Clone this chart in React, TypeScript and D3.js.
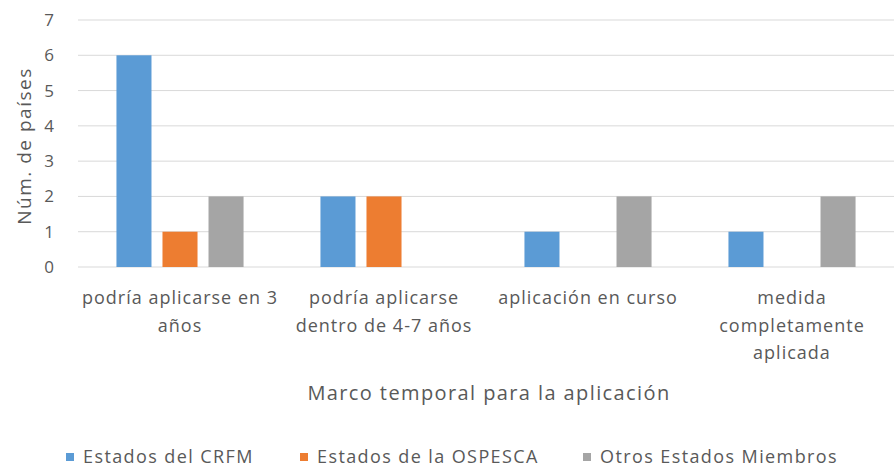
import React from "react";
import * as d3 from "d3";

const categories = [
  "podría aplicarse en 3 años",
  "podría aplicarse dentro de 4-7 años",
  "aplicación en curso",
  "medida completamente aplicada",
];
const categoryLines = [
  ["podría aplicarse en 3", "años"],
  ["podría aplicarse", "dentro de 4-7 años"],
  ["aplicación en curso"],
  ["medida", "completamente", "aplicada"],
];
const seriesNames = ["Estados del CRFM", "Estados de la OSPESCA", "Otros Estados Miembros"];
const crfm = [6, 2, 1, 1];
const ospesca = [1, 2, 0, 0];
const otros = [2, 0, 2, 2];
const seriesValues = [crfm, ospesca, otros];
const colors = ["#5b9bd5", "#ed7d31", "#a5a5a5"];
const yTicks = [0, 1, 2, 3, 4, 5, 6, 7];

const W = 895;
const H = 473;
const FONT = "'Open Sans', sans-serif";
const TXT = "#595959";

export default function App() {
  const x0 = d3.scaleBand<string>().domain(categories).range([78, 894]).paddingInner(0.377).paddingOuter(0.1885);
  const x1 = d3.scaleBand<string>().domain(seriesNames).range([0, x0.bandwidth()]).paddingInner(0.239);
  const y = d3.scaleLinear().domain([0, 7]).range([267, 20]);

  const legendX = [66, 300, 583];

  return (
    <svg width={W} height={H} style={{ position: "absolute", left: 0, top: 0, background: "#fff" }} fontFamily={FONT}>
      <rect x={0} y={0} width={W} height={H} fill="#fff" />
      {yTicks.map((t) => (
        <g key={t}>
          <line x1={78} x2={894} y1={y(t)} y2={y(t)} stroke="#d9d9d9" strokeWidth={1} />
          <text x={54} y={y(t)} dy="0.35em" textAnchor="end" fontSize={17} fill={TXT}>
            {t}
          </text>
        </g>
      ))}
      {categories.map((c, i) => (
        <g key={c} transform={`translate(${x0(c)},0)`}>
          {seriesNames.map((s, j) => {
            const v = seriesValues[j][i];
            if (!v) return null;
            return (
              <rect key={s} x={x1(s)} y={y(v)} width={x1.bandwidth()} height={y(0) - y(v)} fill={colors[j]} />
            );
          })}
          {categoryLines[i].map((ln, k) => (
            <text
              key={k}
              x={x0.bandwidth() / 2}
              y={298 + k * 27.5}
              dy="0.35em"
              textAnchor="middle"
              fontSize={18}
              letterSpacing={1}
              fill={TXT}
            >
              {ln}
            </text>
          ))}
        </g>
      ))}
      <text
        transform={`translate(24,146) rotate(-90)`}
        textAnchor="middle"
        dy="0.35em"
        fontSize={19}
        letterSpacing={1.5}
        fill={TXT}
      >
        Núm. de países
      </text>
      <text x={489} y={393} dy="0.35em" textAnchor="middle" fontSize={20} letterSpacing={1.4} fill={TXT}>
        Marco temporal para la aplicación
      </text>
      {seriesNames.map((s, j) => (
        <g key={s}>
          <rect x={legendX[j]} y={453} width={8} height={8} fill={colors[j]} />
          <text x={legendX[j] + 17} y={457} dy="0.35em" fontSize={18} letterSpacing={1.4} fill={TXT}>
            {s}
          </text>
        </g>
      ))}
    </svg>
  );
}
